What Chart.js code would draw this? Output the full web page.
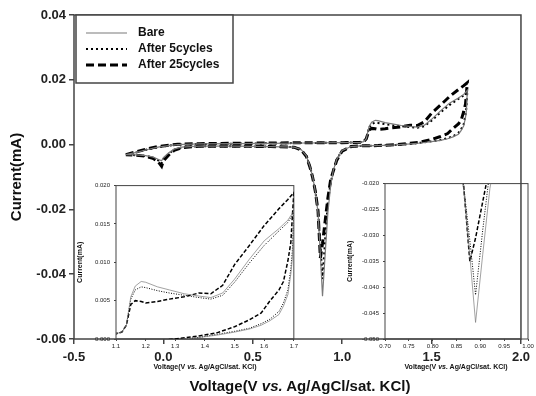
<!DOCTYPE html>
<html>
<head>
<meta charset="utf-8">
<script src="https://cdn.jsdelivr.net/npm/chart.js@4.4.1/dist/chart.umd.min.js"></script>
<style>
  body { margin: 0; background: #fff; }
  #wrap { position: relative; width: 536px; height: 396px; font-family: "Liberation Sans", Arial, sans-serif; }
  canvas { position: absolute; }
  .xtitle { position: absolute; transform: translate(-50%, -50%); white-space: nowrap; font-weight: bold; color: #111; }
</style>
</head>
<body>
<div id="wrap">
  <canvas id="mainChart" width="536" height="396" style="left:0;top:0"></canvas>
  <canvas id="leftInset" width="230" height="200" style="left:70px;top:178px"></canvas>
  <canvas id="rightInset" width="200" height="202" style="left:336px;top:176px"></canvas>
  <div class="xtitle" style="left:300px;top:385px;font-size:15px">Voltage(V <i>vs.</i> Ag/AgCl/sat. KCl)</div>
  <div class="xtitle" style="left:205px;top:366px;font-size:7px">Voltage(V <i>vs.</i> Ag/AgCl/sat. KCl)</div>
  <div class="xtitle" style="left:456px;top:366px;font-size:7px">Voltage(V <i>vs.</i> Ag/AgCl/sat. KCl)</div>
</div>
<script>
// potential sweep: -0.21 V -> 1.7 V -> -0.21 V
const sweepV = [
  -0.21, -0.15, -0.09, -0.03, 0.03, 0.08, 0.2, 0.4, 0.6, 0.8, 1.0, 1.1, 1.12, 1.135, 1.15,
  1.165, 1.185, 1.2, 1.24, 1.28, 1.33, 1.38, 1.42, 1.46, 1.5, 1.55, 1.6, 1.65, 1.68, 1.7,
  1.695, 1.69, 1.68, 1.665, 1.65, 1.62, 1.59, 1.55, 1.5, 1.44, 1.38, 1.3, 1.2, 1.1,
  1.05, 1.0, 0.97, 0.95, 0.935, 0.92, 0.905, 0.89, 0.878, 0.865, 0.85, 0.835, 0.82, 0.8, 0.77, 0.73,
  0.6, 0.4, 0.2, 0.1, 0.06, 0.03, 0.0, -0.01, -0.03, -0.06, -0.1, -0.15, -0.21
];
const bareI = [
  -0.0031, -0.0024, -0.0015, -0.0008, -0.0003, 0.0, 0.0002, 0.0003, 0.0004, 0.0005, 0.0006, 0.0007, 0.0009, 0.0018, 0.0055,
  0.0069, 0.0075, 0.0074, 0.0068, 0.0064, 0.0059, 0.0056, 0.0054, 0.0060, 0.0078, 0.0104, 0.0128, 0.0144, 0.0155, 0.0167,
  0.0105, 0.0085, 0.0058, 0.0043, 0.0032, 0.0024, 0.0018, 0.0013, 0.0009, 0.0005, 0.0002, -0.0001, -0.0003, -0.0004,
  -0.0006, -0.0018, -0.0045, -0.008, -0.013, -0.021, -0.0337, -0.0468, -0.034, -0.021, -0.0145, -0.010, -0.0068, -0.0035, -0.0015, -0.0008,
  -0.0006, -0.0005, -0.0005, -0.0008, -0.0014, -0.0025, -0.0040, -0.0050, -0.0045, -0.0038, -0.0034, -0.0032, -0.0031
];
const cycles5I = [
  -0.0031, -0.0024, -0.0015, -0.0008, -0.0003, 0.0, 0.0002, 0.0003, 0.0004, 0.0005, 0.0006, 0.0007, 0.0009, 0.0018, 0.0052,
  0.0064, 0.0068, 0.0067, 0.0063, 0.0060, 0.0057, 0.0054, 0.0052, 0.0057, 0.0074, 0.0099, 0.0122, 0.0141, 0.0152, 0.0165,
  0.0115, 0.0092, 0.0064, 0.0047, 0.0036, 0.0026, 0.0020, 0.0014, 0.0010, 0.0006, 0.0002, -0.0001, -0.0003, -0.0004,
  -0.0006, -0.0018, -0.0045, -0.008, -0.012, -0.0175, -0.029, -0.0415, -0.031, -0.0205, -0.0145, -0.010, -0.0068, -0.0035, -0.0015, -0.0008,
  -0.0006, -0.0005, -0.0005, -0.0009, -0.0016, -0.0028, -0.0045, -0.0058, -0.0048, -0.0040, -0.0035, -0.0033, -0.0031
];
const cycles25I = [
  -0.0031, -0.0022, -0.0013, -0.0006, -0.0002, 0.0001, 0.0003, 0.0004, 0.0005, 0.0006, 0.0006, 0.0007, 0.0009, 0.0018, 0.0045,
  0.0050, 0.0049, 0.0047, 0.0049, 0.0052, 0.0055, 0.0060, 0.0059, 0.0070, 0.0097, 0.0122, 0.0148, 0.0170, 0.0182, 0.0191,
  0.0160, 0.0126, 0.0102, 0.0075, 0.0064, 0.0050, 0.0034, 0.0025, 0.0016, 0.0008, 0.0004, 0.0, -0.0003, -0.0004,
  -0.0006, -0.0020, -0.0048, -0.0082, -0.011, -0.0165, -0.0235, -0.0305, -0.035, -0.0205, -0.0145, -0.0102, -0.0070, -0.0037, -0.0016, -0.0008,
  -0.0006, -0.0005, -0.0005, -0.0010, -0.0018, -0.0032, -0.0050, -0.0067, -0.0052, -0.0042, -0.0036, -0.0033, -0.0031
];
const seriesNames = ['Bare', 'After 5cycles', 'After 25cycles'];

// axis ranges / ticks
const mainX = [-0.5, 2.0, 0.5];
const mainY = [-0.06, 0.04, 0.02];
const leftX = [1.1, 1.7, 0.1];
const leftY = [0.0, 0.02, 0.005];
const rightX = [0.70, 1.00, 0.05];
const rightY = [-0.050, -0.020, 0.005];

Chart.defaults.font.family = '"Liberation Sans", Arial, sans-serif';
Chart.defaults.color = '#111';

function toPoints(ys) {
    return sweepV.map(function (v, i) { return { x: v, y: ys[i] }; });
}

// scale = 1 for main plot, smaller for the insets
function makeSets(scale) {
    return [
        { label: seriesNames[0], data: toPoints(bareI), borderColor: '#7a7a7a', borderWidth: 1 * scale + 0.2, borderDash: [] },
        { label: seriesNames[1], data: toPoints(cycles5I), borderColor: '#000', borderWidth: 2 * scale, borderDash: [2 * scale, 3 * scale] },
        { label: seriesNames[2], data: toPoints(cycles25I), borderColor: '#000', borderWidth: 3 * scale, borderDash: [8 * scale, 4 * scale] }
    ].map(function (ds) {
        ds.showLine = true;
        ds.pointRadius = 0;
        ds.tension = 0;
        ds.fill = false;
        return ds;
    });
}

// box round the plot area
const frame = {
    id: 'frame',
    beforeDatasetsDraw(chart, args, opts) {
        const a = chart.chartArea;
        const ctx = chart.ctx;
        ctx.save();
        ctx.strokeStyle = '#444';
        ctx.lineWidth = opts.width || 1;
        ctx.strokeRect(a.left, a.top, a.right - a.left, a.bottom - a.top);
        ctx.restore();
    }
};

// legend in a box in the top-left corner
const legendBox = {
    id: 'legendBox',
    afterDatasetsDraw(chart) {
        const ctx = chart.ctx;
        const x0 = chart.chartArea.left + 2, y0 = chart.chartArea.top;
        ctx.save();
        ctx.fillStyle = '#fff';
        ctx.fillRect(x0, y0, 157, 68);
        ctx.strokeStyle = '#444';
        ctx.lineWidth = 1.5;
        ctx.strokeRect(x0, y0, 157, 68);
        chart.data.datasets.forEach(function (ds, i) {
            const y = y0 + 18 + i * 16;
            ctx.beginPath();
            ctx.setLineDash(ds.borderDash);
            ctx.lineWidth = ds.borderWidth;
            ctx.strokeStyle = ds.borderColor;
            ctx.moveTo(x0 + 10, y);
            ctx.lineTo(x0 + 51, y);
            ctx.stroke();
            ctx.setLineDash([]);
            ctx.fillStyle = '#111';
            ctx.font = 'bold 12px "Liberation Sans", Arial, sans-serif';
            ctx.textBaseline = 'middle';
            ctx.fillText(ds.label, x0 + 62, y);
        });
        ctx.restore();
    }
};

function axis(range, digits, o) {
    return {
        type: 'linear',
        min: range[0],
        max: range[1],
        border: { display: false },
        grid: { drawOnChartArea: false, drawTicks: true, tickLength: o.tick, color: '#444', lineWidth: o.line },
        ticks: {
            stepSize: range[2],
            autoSkip: false,
            maxRotation: 0,
            padding: o.pad,
            color: '#222',
            font: { size: o.font, weight: o.weight },
            callback: function (v) { return Number(v).toFixed(digits); }
        },
        title: o.title ? { display: true, text: o.title, font: { size: o.titleSize, weight: 'bold' }, color: '#111', padding: { top: o.titlePad, bottom: 0 } } : { display: false },
        afterFit: o.fit
    };
}

// main plot
new Chart(document.getElementById('mainChart').getContext('2d'), {
    type: 'scatter',
    data: { datasets: makeSets(1) },
    plugins: [frame, legendBox],
    options: {
        responsive: false,
        animation: false,
        layout: { padding: { left: 0, right: 7, top: 15, bottom: 0 } },
        plugins: { legend: { display: false }, tooltip: { enabled: false }, frame: { width: 1.5 } },
        scales: {
            x: axis(mainX, 1, { tick: 5, line: 1.5, pad: 6, font: 13, weight: 'bold', fit: function (s) { s.height = 57; } }),
            y: axis(mainY, 2, { tick: 5, line: 1.5, pad: 3, font: 13, weight: 'bold', title: 'Current(mA)', titleSize: 15, titlePad: 8, fit: function (s) { s.width = 74; } })
        }
    }
});

// inset: anodic region
new Chart(document.getElementById('leftInset').getContext('2d'), {
    type: 'scatter',
    data: { datasets: makeSets(0.5) },
    plugins: [frame],
    options: {
        responsive: false,
        animation: false,
        layout: { padding: { left: 0, right: 5, top: 7, bottom: 0 } },
        plugins: { legend: { display: false }, tooltip: { enabled: false }, frame: { width: 1 } },
        scales: {
            x: axis(leftX, 1, { tick: 2, line: 1, pad: 2, font: 6, weight: 'normal', fit: function (s) { s.height = 39; } }),
            y: axis(leftY, 3, { tick: 2, line: 1, pad: 4, font: 6, weight: 'normal', title: 'Current(mA)', titleSize: 7, titlePad: 6, fit: function (s) { s.width = 46; } })
        }
    }
});

// inset: reduction peak
new Chart(document.getElementById('rightInset').getContext('2d'), {
    type: 'scatter',
    data: { datasets: makeSets(0.5) },
    plugins: [frame],
    options: {
        responsive: false,
        animation: false,
        layout: { padding: { left: 0, right: 8, top: 6, bottom: 0 } },
        plugins: { legend: { display: false }, tooltip: { enabled: false }, frame: { width: 1 } },
        scales: {
            x: axis(rightX, 2, { tick: 2, line: 1, pad: 2, font: 6, weight: 'normal', fit: function (s) { s.height = 39; } }),
            y: axis(rightY, 3, { tick: 2, line: 1, pad: 4, font: 6, weight: 'normal', title: 'Current(mA)', titleSize: 7, titlePad: 10, fit: function (s) { s.width = 49; } })
        }
    }
});
</script>
</body>
</html>
